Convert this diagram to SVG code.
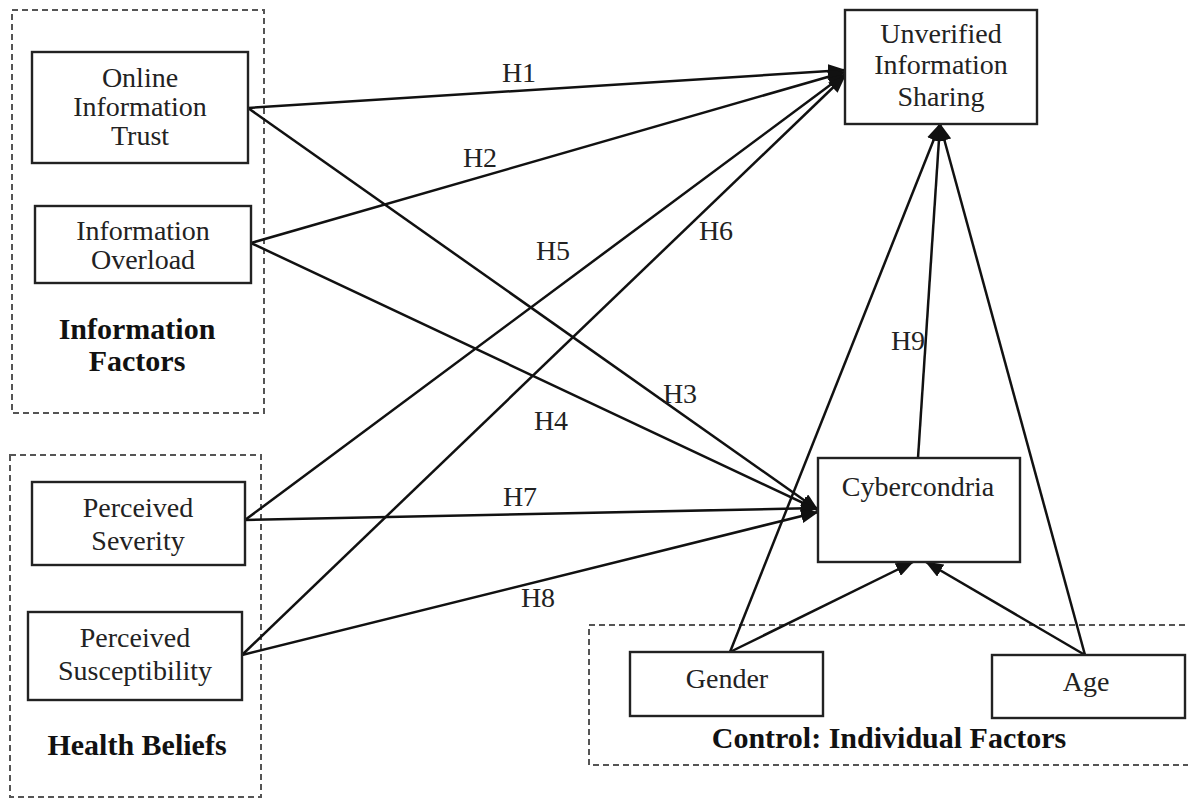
<svg xmlns="http://www.w3.org/2000/svg" width="1188" height="800" viewBox="0 0 1188 800">
<style>
.box{fill:#fff;stroke:#222;stroke-width:2.4}
.grp{fill:none;stroke:#555;stroke-width:2;stroke-dasharray:6 4}
.t{font-family:"Liberation Serif","Times New Roman",serif;font-size:28px;fill:#222;text-anchor:middle}
.b{font-family:"Liberation Serif","Times New Roman",serif;font-size:30px;font-weight:bold;fill:#111;text-anchor:middle}
.h{font-family:"Liberation Serif","Times New Roman",serif;font-size:28px;fill:#222;text-anchor:middle}
.c{stroke:#111;stroke-width:2.5;fill:none;marker-end:url(#ah)}
</style>
<defs>
<marker id="ah" viewBox="0 0 18 14" refX="17" refY="7" markerWidth="18" markerHeight="14" markerUnits="userSpaceOnUse" orient="auto">
<path d="M0,0 L18,7 L0,14 Z" fill="#111"/>
</marker>
</defs>
<rect width="1188" height="800" fill="#fff"/>
<g id="group-information-factors">
<rect class="grp" x="12" y="10" width="252" height="403"/>
<text class="b" x="137" y="339">Information</text>
<text class="b" x="137" y="371">Factors</text>
</g>
<g id="group-health-beliefs">
<rect class="grp" x="10" y="455" width="251" height="342"/>
<text class="b" x="137" y="755">Health Beliefs</text>
</g>
<g id="group-control">
<rect class="grp" x="589" y="625" width="600" height="140"/>
<text class="b" x="889" y="748">Control: Individual Factors</text>
</g>
<g id="connectors">
<line class="c" x1="248" y1="108" x2="845" y2="70"/>
<line class="c" x1="248" y1="108" x2="818" y2="510"/>
<line class="c" x1="251" y1="243" x2="845" y2="72"/>
<line class="c" x1="251" y1="243" x2="818" y2="510"/>
<line class="c" x1="245" y1="520" x2="845" y2="74"/>
<line class="c" x1="245" y1="520" x2="818" y2="508"/>
<line class="c" x1="242" y1="655" x2="845" y2="76"/>
<line class="c" x1="242" y1="655" x2="818" y2="512"/>
<line class="c" x1="918" y1="458" x2="940" y2="124"/>
<line class="c" x1="730" y1="652" x2="940" y2="124"/>
<line class="c" x1="730" y1="652" x2="913" y2="562"/>
<line class="c" x1="1085" y1="655" x2="940" y2="124"/>
<line class="c" x1="1085" y1="655" x2="926" y2="562"/>
<text class="h" x="519" y="82">H1</text>
<text class="h" x="480" y="167">H2</text>
<text class="h" x="680" y="403">H3</text>
<text class="h" x="551" y="430">H4</text>
<text class="h" x="553" y="260">H5</text>
<text class="h" x="716" y="240">H6</text>
<text class="h" x="520" y="506">H7</text>
<text class="h" x="538" y="607">H8</text>
<text class="h" x="908" y="350">H9</text>
</g>
<g id="node-online-information-trust">
<rect class="box" x="32" y="52" width="216" height="111"/>
<text class="t" x="140" y="87">Online</text>
<text class="t" x="140" y="116">Information</text>
<text class="t" x="140" y="145">Trust</text>
</g>
<g id="node-information-overload">
<rect class="box" x="35" y="206" width="216" height="77"/>
<text class="t" x="143" y="240">Information</text>
<text class="t" x="143" y="269">Overload</text>
</g>
<g id="node-perceived-severity">
<rect class="box" x="32" y="482" width="213" height="83"/>
<text class="t" x="138" y="517">Perceived</text>
<text class="t" x="138" y="550">Severity</text>
</g>
<g id="node-perceived-susceptibility">
<rect class="box" x="28" y="612" width="214" height="88"/>
<text class="t" x="135" y="647">Perceived</text>
<text class="t" x="135" y="680">Susceptibility</text>
</g>
<g id="node-unverified-information-sharing">
<rect class="box" x="845" y="10" width="192" height="114"/>
<text class="t" x="941" y="43">Unverified</text>
<text class="t" x="941" y="74">Information</text>
<text class="t" x="941" y="106">Sharing</text>
</g>
<g id="node-cybercondria">
<rect class="box" x="818" y="458" width="202" height="104"/>
<text class="t" x="918" y="496">Cybercondria</text>
</g>
<g id="node-gender">
<rect class="box" x="630" y="652" width="193" height="64"/>
<text class="t" x="727" y="688">Gender</text>
</g>
<g id="node-age">
<rect class="box" x="992" y="655" width="193" height="63"/>
<text class="t" x="1086" y="691">Age</text>
</g>
</svg>
